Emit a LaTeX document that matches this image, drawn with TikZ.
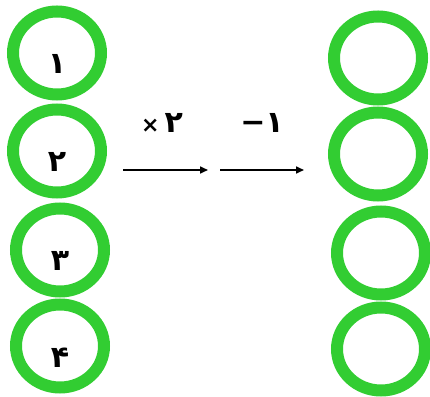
\documentclass[tikz,border=0pt]{standalone}
\usepackage{fontspec}
\newfontfamily\digitfont{DejaVu Sans}
\usetikzlibrary{shapes.geometric, arrows.meta, positioning}
\definecolor{ringgreen}{RGB}{50,205,50}
\newcommand{\lowdigit}[1]{\smash{\raisebox{-21pt}{#1}}}

\begin{document}
\begin{tikzpicture}[
  x=1pt, y=1pt,
  ring/.style={ellipse, draw=ringgreen, line width=12pt, minimum width=88pt, minimum height=83pt, inner sep=0pt, outer sep=0pt, font=\digitfont\bfseries\fontsize{30}{34}\selectfont},
  arrow/.style={-{Triangle[length=8pt,width=7pt]}, line width=1.6pt},
  lbl/.style={font=\digitfont\bfseries\fontsize{30}{34}\selectfont}
]
\useasboundingbox (0,0) rectangle (430,396);

% ── Inputs (left column) ─────────────────────────────────────
\node[ring] (in1) at (57,343) {\lowdigit{۱}};
\node[ring, below=15pt of in1] (in2) {\lowdigit{۲}};
\node[ring, below=16pt of in2, xshift=3pt] (in3) {\lowdigit{۳}};
\node[ring, below=13pt of in3] (in4) {\lowdigit{۴}};

% ── Outputs (right column) ───────────────────────────────────
\node[ring] (out1) at (378,338) {};
\node[ring, below=13pt of out1] (out2) {};
\node[ring, below=16pt of out2, xshift=3pt] (out3) {};
\node[ring, below=13pt of out3] (out4) {};

% ── Arrows ───────────────────────────────────────────────────
\coordinate (mulA) at (123,226);
\coordinate (mulB) at (208,226);
\coordinate (subA) at (220,226);
\coordinate (subB) at (304,226);
\draw[arrow] (mulA) -- (mulB);
\draw[arrow] (subA) -- (subB);

% ── Operation labels ─────────────────────────────────────────
\node[lbl] (mul) at (162,273) {{\fontsize{22}{26}\selectfont×}\,۲};
\node[lbl] (sub) at (262,273) {−۱};
\end{tikzpicture}
\end{document}
